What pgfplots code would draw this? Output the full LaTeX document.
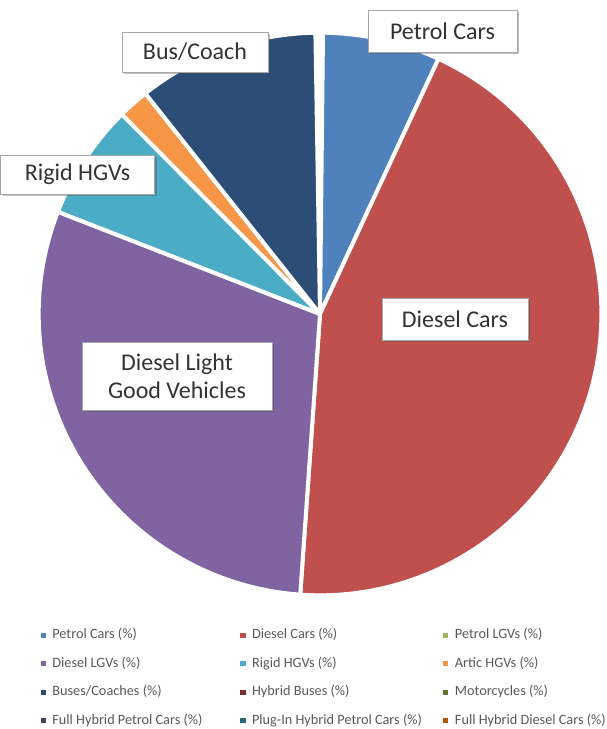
\documentclass[border=0pt]{standalone}
\usepackage{pgfplots}
\pgfplotsset{compat=1.18}
\usepackage{fontspec}
\setmainfont{Carlito}
\usetikzlibrary{shadows}

% Office-style series colours
\definecolor{cPetrol}{HTML}{4F81BD}
\definecolor{cDiesel}{HTML}{C0504D}
\definecolor{cPLGV}{HTML}{9BBB59}
\definecolor{cDLGV}{HTML}{8064A2}
\definecolor{cRigid}{HTML}{4BACC6}
\definecolor{cArtic}{HTML}{F79646}
\definecolor{cBus}{HTML}{2C4D75}
\definecolor{cHBus}{HTML}{772C2A}
\definecolor{cMoto}{HTML}{5F7530}
\definecolor{cFHP}{HTML}{4D3B62}
\definecolor{cPIH}{HTML}{276A7C}
\definecolor{cFHD}{HTML}{B65708}
\definecolor{cLegText}{HTML}{595959}

\tikzset{lbl/.style={draw=gray!70, fill=white, line width=0.6pt,
    drop shadow={shadow xshift=1.5pt, shadow yshift=-1.5pt, opacity=0.35, fill=black!70},
    font=\fontsize{18}{21}\selectfont, text=black!80, align=center, inner sep=0pt}}

% pie radius (1px = 0.75pt)
\def\R{211pt}
% slice: colour, from, to (cumulative %, clockwise from 12 o'clock)
\newcommand{\slice}[3]{%
  \fill[#1, draw=white, line width=3pt, line join=round]
    (axis cs:320,415) -- ++({90-3.6*(#2)}:\R)
    arc[start angle={90-3.6*(#2)}, end angle={90-3.6*(#3)}, radius=\R] -- cycle;}

\pgfplotsset{sq legend/.style={legend image code/.code={%
  \fill[##1, draw=none] (0pt,-1.9pt) rectangle (3.8pt,1.9pt);}}}

\begin{document}
\begin{tikzpicture}
\begin{axis}[
    hide axis,
    x=0.75pt, y=0.75pt,
    xmin=0, xmax=607, ymin=0, ymax=729,
    clip=false,
    legend columns=3,
    legend cell align=left,
    legend style={draw=none, fill=none, inner sep=0pt,
        at={(axis cs:40.5,100.7)}, anchor=north west,
        font=\fontsize{10.7}{12}\selectfont, text=cLegText,
        row sep=11.4pt,
        nodes={inner xsep=1.5pt, inner ysep=0pt, text height=7.5pt, text depth=2.5pt},
        /tikz/column 1/.style={column sep=3.4pt},
        /tikz/column 2/.style={column sep=27pt},
        /tikz/column 3/.style={column sep=3.4pt},
        /tikz/column 4/.style={column sep=14.6pt},
        /tikz/column 5/.style={column sep=3.4pt}},
]
% shares (%): Petrol 6.75, Diesel 44.2, Diesel LGVs 29.8, Rigid 6.64, Artic 1.78, Buses 10.4
\slice{cPetrol}{0.17}{6.92}
\slice{cDiesel}{6.92}{51.12}
\slice{cDLGV}{51.12}{80.92}
\slice{cRigid}{80.92}{87.56}
\slice{cArtic}{87.56}{89.34}
\slice{cBus}{89.34}{99.74}

\node[lbl, minimum width=111.75pt, minimum height=31.5pt] at (axis cs:442.5,698) {Petrol Cars};
\node[lbl, minimum width=109.5pt, minimum height=31.5pt] at (axis cs:455,410) {Diesel Cars};
\node[lbl, minimum width=142.5pt, minimum height=51pt] at (axis cs:177,353) {Diesel Light\\Good Vehicles};
\node[lbl, minimum width=115.5pt, minimum height=29.25pt] at (axis cs:77.5,554.5) {Rigid HGVs};
\node[lbl, minimum width=109.5pt, minimum height=30pt] at (axis cs:195,677) {Bus/Coach};

\addlegendimage{sq legend, fill=cPetrol}\addlegendentry{Petrol Cars (\%)}
\addlegendimage{sq legend, fill=cDiesel}\addlegendentry{Diesel Cars (\%)}
\addlegendimage{sq legend, fill=cPLGV}\addlegendentry{Petrol LGVs (\%)}
\addlegendimage{sq legend, fill=cDLGV}\addlegendentry{Diesel LGVs (\%)}
\addlegendimage{sq legend, fill=cRigid}\addlegendentry{Rigid HGVs (\%)}
\addlegendimage{sq legend, fill=cArtic}\addlegendentry{Artic HGVs (\%)}
\addlegendimage{sq legend, fill=cBus}\addlegendentry{Buses/Coaches (\%)}
\addlegendimage{sq legend, fill=cHBus}\addlegendentry{Hybrid Buses (\%)}
\addlegendimage{sq legend, fill=cMoto}\addlegendentry{Motorcycles (\%)}
\addlegendimage{sq legend, fill=cFHP}\addlegendentry{Full Hybrid Petrol Cars (\%)}
\addlegendimage{sq legend, fill=cPIH}\addlegendentry{Plug-In Hybrid Petrol Cars (\%)}
\addlegendimage{sq legend, fill=cFHD}\addlegendentry{Full Hybrid Diesel Cars (\%)}
\end{axis}
\pgfresetboundingbox
\path (0,0) rectangle (455.25pt,546.75pt);
\end{tikzpicture}
\end{document}
